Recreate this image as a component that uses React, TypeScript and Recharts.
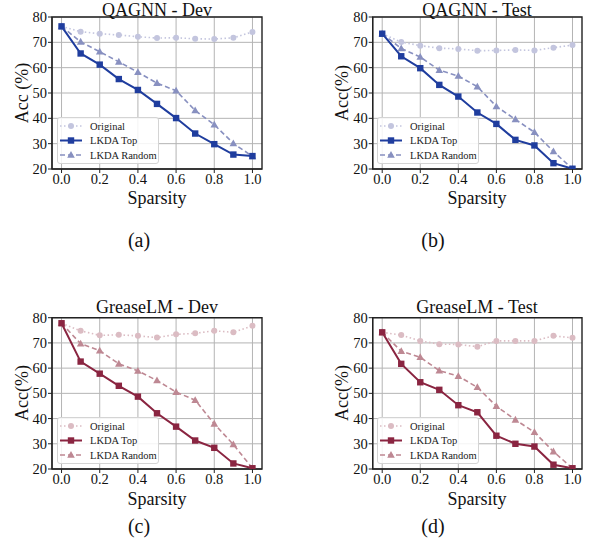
import React from "react";
import { LineChart, Line, XAxis, YAxis, CartesianGrid, ReferenceArea } from "recharts";

const sparsity = [0, 0.1, 0.2, 0.3, 0.4, 0.5, 0.6, 0.7, 0.8, 0.9, 1.0];
const xTicks = [0, 0.2, 0.4, 0.6, 0.8, 1.0];
const yTicks = [20, 30, 40, 50, 60, 70, 80];

const qagnnDevOriginal = [76.3, 74.2, 73.4, 72.9, 72.2, 71.7, 71.8, 71.4, 71.3, 71.8, 74.1];
const qagnnDevTop = [76.3, 65.6, 61.2, 55.5, 51.2, 45.7, 40.1, 34.0, 29.8, 25.7, 25.1];
const qagnnDevRandom = [76.3, 70.2, 66.3, 62.3, 58.2, 53.9, 50.9, 43.1, 37.5, 30.1, 25.0];

const qagnnTestOriginal = [73.4, 70.1, 68.7, 67.7, 67.4, 66.7, 66.8, 67.0, 66.8, 67.9, 68.9];
const qagnnTestTop = [73.4, 64.5, 59.8, 53.2, 48.6, 42.3, 37.8, 31.5, 29.3, 22.3, 20.1];
const qagnnTestRandom = [73.4, 67.6, 64.2, 59.0, 56.7, 52.5, 44.7, 39.6, 34.5, 26.9, 20.1];

const greaseDevOriginal = [77.8, 74.8, 73.0, 73.2, 72.8, 72.1, 73.4, 73.8, 74.8, 74.2, 76.8];
const greaseDevTop = [77.8, 62.6, 57.8, 53.0, 48.7, 42.1, 36.8, 31.3, 28.4, 22.2, 20.3];
const greaseDevRandom = [77.8, 69.7, 66.9, 61.7, 58.9, 55.1, 50.5, 47.3, 37.9, 29.7, 20.3];

const greaseTestOriginal = [74.2, 73.1, 70.8, 69.5, 69.4, 68.5, 70.8, 70.8, 70.8, 72.8, 72.0];
const greaseTestTop = [74.2, 61.7, 54.4, 51.4, 45.3, 42.5, 33.2, 30.0, 28.9, 21.7, 20.3];
const greaseTestRandom = [74.2, 66.7, 64.3, 59.0, 56.8, 52.4, 44.9, 39.5, 34.6, 26.9, 20.3];

const seriesNames = ["Original", "LKDA Top", "LKDA Random"];

const BLUE = { original: "#c3c5de", top: "#1f3d9e", random: "#8890c0" };
const RED = { original: "#dbbcc3", top: "#8a2541", random: "#be8893" };

const FONT = "'Liberation Serif', 'Times New Roman', serif";

type Colors = { original: string; top: string; random: string };

const buildData = (o: number[], t: number[], r: number[]) =>
  sparsity.map((s, i) => ({ s, original: o[i], top: t[i], random: r[i] }));

const circleDot = (color: string) => (p: any) => (
  <circle key={`c${p.index}`} cx={p.cx} cy={p.cy} r={3} fill={color} stroke="none" />
);
const squareDot = (color: string) => (p: any) => (
  <rect key={`s${p.index}`} x={p.cx - 3.2} y={p.cy - 3.2} width={6.4} height={6.4} fill={color} stroke="none" />
);
const triDot = (color: string) => (p: any) => (
  <polygon
    key={`t${p.index}`}
    points={`${p.cx},${p.cy - 4} ${p.cx - 3.8},${p.cy + 2.8} ${p.cx + 3.8},${p.cy + 2.8}`}
    fill={color}
    stroke="none"
  />
);

const Legend2 = ({ colors, left, top }: { colors: Colors; left: number; top: number }) => {
  const rows = [
    { name: seriesNames[0], color: colors.original, dash: "1.5 2.5", w: 1.6, m: "c" },
    { name: seriesNames[1], color: colors.top, dash: undefined, w: 2, m: "s" },
    { name: seriesNames[2], color: colors.random, dash: "5 3", w: 1.6, m: "t" },
  ];
  return (
    <div
      style={{
        position: "absolute",
        left,
        top,
        width: 102,
        height: 47,
        border: "1px solid #d4d4d4",
        borderRadius: 3,
        background: "rgba(255,255,255,0.85)",
        boxSizing: "border-box",
      }}
    >
      <svg width={102} height={47} style={{ position: "absolute", left: -1, top: -1 }}>
        {rows.map((r, i) => {
          const y = 9 + i * 14.5;
          return (
            <g key={r.name}>
              <line x1={3} x2={25} y1={y} y2={y} stroke={r.color} strokeWidth={r.w} strokeDasharray={r.dash} />
              {r.m === "c" && <circle cx={14} cy={y} r={3} fill={r.color} />}
              {r.m === "s" && <rect x={10.8} y={y - 3.2} width={6.4} height={6.4} fill={r.color} />}
              {r.m === "t" && (
                <polygon points={`14,${y - 4} ${10.2},${y + 2.8} ${17.8},${y + 2.8}`} fill={r.color} />
              )}
              <text x={33} y={y + 3.7} fontFamily={FONT} fontSize={10.5} fill="#222">
                {r.name}
              </text>
            </g>
          );
        })}
      </svg>
    </div>
  );
};

type PanelProps = {
  left: number;
  top: number;
  width: number;
  mTop: number;
  mLeft: number;
  mRight: number;
  data: any[];
  colors: Colors;
};

const Panel = ({ left, top, width, mTop, mLeft, mRight, data, colors }: PanelProps) => (
  <div style={{ position: "absolute", left, top }}>
    <LineChart
      width={width}
      height={230}
      data={data}
      margin={{ top: mTop, left: mLeft, right: mRight, bottom: 31 }}
    >
      <CartesianGrid stroke="#b4b4b4" strokeWidth={1} verticalValues={xTicks} horizontalValues={yTicks} />
      <XAxis
        dataKey="s"
        type="number"
        domain={[-0.05, 1.05]}
        ticks={xTicks}
        tickFormatter={(v: number) => v.toFixed(1)}
        height={30}
        tickSize={4}
        tickMargin={1}
        axisLine={{ stroke: "#222", strokeWidth: 1.2 }}
        tickLine={{ stroke: "#222", strokeWidth: 1 }}
        tick={{ fontFamily: FONT, fontSize: 14.5, fill: "#111" }}
        allowDataOverflow
      />
      <YAxis
        type="number"
        domain={[20, 80]}
        ticks={yTicks}
        width={40}
        tickSize={4}
        tickMargin={1}
        axisLine={{ stroke: "#222", strokeWidth: 1.2 }}
        tickLine={{ stroke: "#222", strokeWidth: 1 }}
        tick={{ fontFamily: FONT, fontSize: 14.5, fill: "#111" }}
        allowDataOverflow
      />
      <ReferenceArea x1={-0.05} x2={1.05} y1={20} y2={80} fill="none" stroke="#222" strokeWidth={1.4} ifOverflow="visible" />
      <Line
        dataKey="original"
        stroke={colors.original}
        strokeWidth={1.6}
        strokeDasharray="1.5 2.5"
        dot={circleDot(colors.original)}
        isAnimationActive={false}
      />
      <Line
        dataKey="random"
        stroke={colors.random}
        strokeWidth={1.6}
        strokeDasharray="5 3"
        dot={triDot(colors.random)}
        isAnimationActive={false}
      />
      <Line
        dataKey="top"
        stroke={colors.top}
        strokeWidth={2}
        dot={squareDot(colors.top)}
        isAnimationActive={false}
      />
    </LineChart>
  </div>
);

const texts = [
  { x: 157, y: 16, t: "QAGNN - Dev", s: 18, rot: false },
  { x: 477, y: 16, t: "QAGNN - Test", s: 18, rot: false },
  { x: 157, y: 313, t: "GreaseLM - Dev", s: 18, rot: false },
  { x: 477, y: 313, t: "GreaseLM - Test", s: 18, rot: false },
  { x: 157, y: 204, t: "Sparsity", s: 18, rot: false },
  { x: 477, y: 204, t: "Sparsity", s: 18, rot: false },
  { x: 157, y: 505, t: "Sparsity", s: 18, rot: false },
  { x: 477, y: 505, t: "Sparsity", s: 18, rot: false },
  { x: 139, y: 247, t: "(a)", s: 20, rot: false },
  { x: 433, y: 247, t: "(b)", s: 20, rot: false },
  { x: 139, y: 533, t: "(c)", s: 20, rot: false },
  { x: 433, y: 533, t: "(d)", s: 20, rot: false },
];

const yLabels = [
  { x: 21.5, y: 93, t: "Acc (%)" },
  { x: 342, y: 93, t: "Acc(%)" },
  { x: 21.5, y: 393, t: "Acc(%)" },
  { x: 342, y: 393, t: "Acc(%)" },
];

export default function App() {
  return (
    <div style={{ position: "absolute", left: 0, top: 0, width: 589, height: 559, background: "#fff", overflow: "hidden" }}>
      <Panel left={0} top={0} width={295} mTop={17} mLeft={12} mRight={33} data={buildData(qagnnDevOriginal, qagnnDevTop, qagnnDevRandom)} colors={BLUE} />
      <Panel left={295} top={0} width={294} mTop={17} mLeft={37.7} mRight={7} data={buildData(qagnnTestOriginal, qagnnTestTop, qagnnTestRandom)} colors={BLUE} />
      <Panel left={0} top={300} width={295} mTop={17.7} mLeft={12} mRight={33} data={buildData(greaseDevOriginal, greaseDevTop, greaseDevRandom)} colors={RED} />
      <Panel left={295} top={300} width={294} mTop={17.7} mLeft={37.7} mRight={7} data={buildData(greaseTestOriginal, greaseTestTop, greaseTestRandom)} colors={RED} />
      <Legend2 colors={BLUE} left={57} top={117} />
      <Legend2 colors={BLUE} left={377} top={117} />
      <Legend2 colors={RED} left={57} top={417} />
      <Legend2 colors={RED} left={377} top={417} />
      <svg width={589} height={559} style={{ position: "absolute", left: 0, top: 0, pointerEvents: "none" }}>
        {texts.map((d, i) => (
          <text key={i} x={d.x} y={d.y} textAnchor="middle" fontFamily={FONT} fontSize={d.s} fill="#111">
            {d.t}
          </text>
        ))}
        {yLabels.map((d, i) => (
          <text
            key={`y${i}`}
            x={d.x}
            y={d.y}
            textAnchor="middle"
            dominantBaseline="central"
            fontFamily={FONT}
            fontSize={18}
            fill="#111"
            transform={`rotate(-90 ${d.x} ${d.y})`}
          >
            {d.t}
          </text>
        ))}
      </svg>
    </div>
  );
}
